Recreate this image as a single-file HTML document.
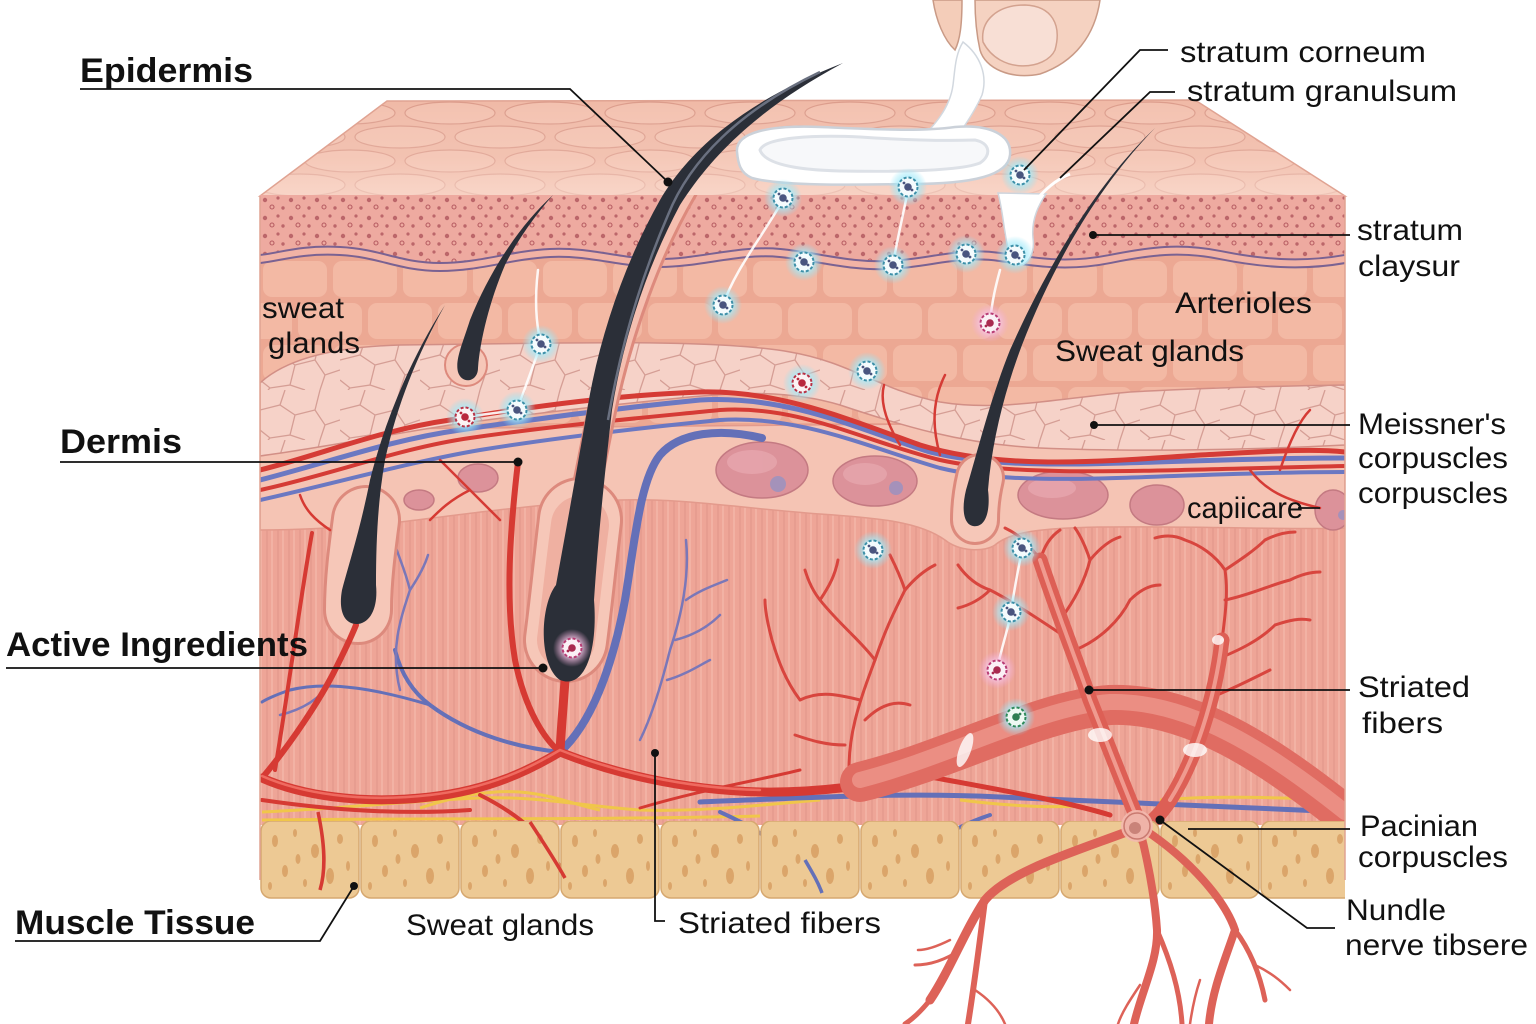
<!DOCTYPE html>
<html><head><meta charset="utf-8"><style>
html,body{margin:0;padding:0;background:#fff;}
svg{display:block;}
text{font-family:"Liberation Sans",sans-serif;fill:#111;}
.b{font-weight:700;font-size:34px;}
.r{font-size:30px;}
</style></head><body>
<svg width="1536" height="1024" viewBox="0 0 1536 1024" xmlns="http://www.w3.org/2000/svg">
<defs>
<pattern id="topc" patternUnits="userSpaceOnUse" x="0" y="101" width="200" height="48">
<rect width="200" height="48" fill="#f0b9a6"/>
<ellipse cx="50" cy="12" rx="45" ry="11" fill="#f3c1af" stroke="#dc9c8b" stroke-width="1.2"/>
<ellipse cx="150" cy="12" rx="45" ry="11" fill="#f3c1af" stroke="#dc9c8b" stroke-width="1.2"/>
<ellipse cx="0" cy="36" rx="45" ry="11" fill="#f3c1af" stroke="#dc9c8b" stroke-width="1.2"/>
<ellipse cx="100" cy="36" rx="45" ry="11" fill="#f3c1af" stroke="#dc9c8b" stroke-width="1.2"/>
<ellipse cx="200" cy="36" rx="45" ry="11" fill="#f3c1af" stroke="#dc9c8b" stroke-width="1.2"/>
</pattern>
<linearGradient id="topg" x1="0" y1="0" x2="0" y2="1">
<stop offset="0" stop-color="#fff" stop-opacity="0"/>
<stop offset="0.6" stop-color="#fde6dc" stop-opacity="0.2"/>
<stop offset="1" stop-color="#fde6dc" stop-opacity="0.55"/>
</linearGradient>
<pattern id="dots" patternUnits="userSpaceOnUse" x="260" y="195" width="26" height="18">
<rect width="26" height="18" fill="#eeaaa0"/>
<circle cx="5" cy="5" r="2.2" fill="#bc666a"/>
<circle cx="18" cy="3" r="1.6" fill="#bc666a"/>
<circle cx="12" cy="12" r="2" fill="none" stroke="#b85e63" stroke-width="1.1"/>
<circle cx="23" cy="13" r="1.7" fill="#bc666a"/>
</pattern>
<pattern id="bricks" patternUnits="userSpaceOnUse" x="260" y="258" width="140" height="84">
<rect width="140" height="84" fill="#eca893"/>
<rect x="3" y="3" width="64" height="36" rx="9" fill="#f3b9a4"/>
<rect x="73" y="3" width="64" height="36" rx="9" fill="#f3b9a4"/>
<rect x="-32" y="45" width="64" height="36" rx="9" fill="#f3b9a4"/>
<rect x="38" y="45" width="64" height="36" rx="9" fill="#f3b9a4"/>
<rect x="108" y="45" width="64" height="36" rx="9" fill="#f3b9a4"/>
</pattern>
<pattern id="pale" patternUnits="userSpaceOnUse" x="260" y="340" width="80" height="50">
<rect width="80" height="50" fill="#f6d2c8"/>
<path d="M0,20 L20,15 L35,25 L30,45 L10,48 L0,40 M20,15 L25,0 M35,25 L55,20 L60,0 M55,20 L65,35 L80,30 M65,35 L60,50 M30,45 L45,50 M10,48 L8,50" fill="none" stroke="#d59e95" stroke-width="1.3"/>
</pattern>
<pattern id="stripe" patternUnits="userSpaceOnUse" x="0" y="0" width="11" height="30">
<rect width="11" height="30" fill="#eea597"/>
<line x1="3" y1="0" x2="3" y2="30" stroke="#e0958a" stroke-width="1"/>
<line x1="8" y1="0" x2="8" y2="30" stroke="#f4baad" stroke-width="1.2"/>
</pattern>
<pattern id="fat" patternUnits="userSpaceOnUse" x="260" y="821" width="100" height="78">
<rect x="1" y="0" width="98" height="77" rx="10" fill="#edc994" stroke="#d6a870" stroke-width="1.5"/>
<ellipse cx="15" cy="20" rx="3" ry="6" fill="#dba56a"/>
<ellipse cx="35" cy="12" rx="2" ry="4" fill="#dba56a"/>
<ellipse cx="55" cy="30" rx="4" ry="7" fill="#dba56a"/>
<ellipse cx="80" cy="18" rx="3" ry="5" fill="#dba56a"/>
<ellipse cx="25" cy="50" rx="3" ry="6" fill="#dba56a"/>
<ellipse cx="70" cy="55" rx="4" ry="8" fill="#dba56a"/>
<ellipse cx="45" cy="62" rx="2" ry="4" fill="#dba56a"/>
<ellipse cx="88" cy="45" rx="2" ry="5" fill="#dba56a"/>
<ellipse cx="10" cy="65" rx="2" ry="4" fill="#dba56a"/>
<ellipse cx="38" cy="38" rx="2.5" ry="5" fill="#dba56a"/>
</pattern>
<radialGradient id="glow"><stop offset="0" stop-color="#f2fdff"/><stop offset="0.5" stop-color="#a9ecfa" stop-opacity="0.8"/><stop offset="1" stop-color="#8ae3f7" stop-opacity="0"/></radialGradient>
<radialGradient id="glowp"><stop offset="0" stop-color="#fff"/><stop offset="0.5" stop-color="#f6c6e6" stop-opacity="0.8"/><stop offset="1" stop-color="#f0a8d8" stop-opacity="0"/></radialGradient>
<g id="pc"><circle r="19" fill="url(#glow)"/><circle r="9.5" fill="#f4fbfd" stroke="#3d8fa8" stroke-width="2" stroke-dasharray="3 2"/><circle r="3.8" fill="#49557f"/><circle cx="-4" cy="-4" r="1.4" fill="#49557f"/><circle cx="4" cy="3" r="1.4" fill="#49557f"/></g>
<g id="pr"><circle r="19" fill="url(#glow)"/><circle r="9.5" fill="#fbf3f4" stroke="#b83246" stroke-width="2" stroke-dasharray="3 2"/><circle r="3.8" fill="#b8283d"/><circle cx="-4" cy="-4" r="1.4" fill="#b8283d"/><circle cx="4" cy="4" r="1.4" fill="#b8283d"/></g>
<g id="pp"><circle r="19" fill="url(#glowp)"/><circle r="9.5" fill="#fbf0f6" stroke="#b83c74" stroke-width="2" stroke-dasharray="3 2"/><circle r="3.8" fill="#a92a50"/><circle cx="-4" cy="3" r="1.4" fill="#a92a50"/></g>
<g id="pg"><circle r="19" fill="url(#glow)"/><circle r="9.5" fill="#eef9f3" stroke="#2e8a5a" stroke-width="2" stroke-dasharray="3 2"/><circle r="3.8" fill="#2e7d52"/><circle cx="4" cy="-3" r="1.4" fill="#2e7d52"/></g>
<clipPath id="front"><rect x="260" y="195" width="1085" height="704"/></clipPath>
</defs>

<rect width="1536" height="1024" fill="#fff"/>

<!-- top face -->
<polygon points="387,101 1195,100 1345,196 260,196" fill="url(#topc)"/>
<polygon points="387,101 1195,100 1345,196 260,196" fill="url(#topg)" stroke="#e0a392" stroke-width="1.5"/>

<g clip-path="url(#front)">
<rect x="260" y="195" width="1085" height="630" fill="url(#stripe)"/>
<rect x="260" y="250" width="1085" height="220" fill="url(#bricks)"/>
<!-- sub region -->
<path d="M260,430 L1345,420 L1345,528 C1300,530 1200,526 1100,527 C1040,528 1010,532 995,545 C985,552 960,552 945,540 C920,522 880,518 820,514 C740,508 680,498 620,500 C540,503 460,515 400,522 C340,528 300,530 260,530 Z" fill="#f5c4b4" stroke="#e39a8c" stroke-width="1.5"/>
<!-- ovals -->
<g fill="#dc929a" stroke="#c47a82" stroke-width="1.5">
<ellipse cx="762" cy="470" rx="46" ry="28"/>
<ellipse cx="875" cy="481" rx="42" ry="25"/>
<ellipse cx="1063" cy="495" rx="45" ry="24"/>
<ellipse cx="1157" cy="505" rx="27" ry="20"/>
<ellipse cx="1333" cy="510" rx="18" ry="20"/>
<ellipse cx="478" cy="478" rx="20" ry="14"/>
<ellipse cx="419" cy="500" rx="15" ry="10"/>
</g>
<g fill="#e8aab0" opacity="0.7">
<ellipse cx="752" cy="462" rx="25" ry="12"/><ellipse cx="865" cy="474" rx="22" ry="11"/><ellipse cx="1052" cy="488" rx="24" ry="10"/>
</g>
<g fill="#8d92c8" opacity="0.7"><circle cx="778" cy="484" r="8"/><circle cx="896" cy="488" r="7"/><circle cx="1343" cy="515" r="5"/></g>
<!-- pale layer -->
<path d="M260,383 C285,360 330,347 400,345 L560,343 C650,342 740,343 790,352 C850,362 880,390 940,402 C1000,412 1060,398 1130,392 C1200,388 1280,386 1345,385 L1345,445 C1250,450 1130,452 1040,448 C960,444 900,425 840,405 C790,390 740,392 680,398 C600,406 520,415 450,425 C380,436 320,448 260,456 Z" fill="url(#pale)" stroke="#d28f86" stroke-width="1.5"/>
<!-- granular -->
<path d="M260,195 H1345 V258 C1300,266 1260,262 1220,254 C1180,246 1150,250 1110,258 C1070,266 1040,262 1000,256 C960,250 930,262 890,264 C850,266 820,256 780,252 C740,248 700,262 660,262 C620,262 590,250 550,252 C510,254 480,266 440,266 C400,266 380,252 340,250 C300,248 280,256 260,258 Z" fill="url(#dots)"/>
<path d="M260,259 C280,257 300,249 340,251 C380,253 400,267 440,267 C480,267 510,255 550,253 C590,251 620,263 660,263 C700,263 740,249 780,253 C820,257 850,267 890,265 C930,263 960,251 1000,257 C1040,263 1070,267 1110,259 C1150,251 1180,247 1220,255 C1260,263 1300,267 1345,259" fill="none" stroke="#7a6292" stroke-width="10"/>
<path d="M260,259 C280,257 300,249 340,251 C380,253 400,267 440,267 C480,267 510,255 550,253 C590,251 620,263 660,263 C700,263 740,249 780,253 C820,257 850,267 890,265 C930,263 960,251 1000,257 C1040,263 1070,267 1110,259 C1150,251 1180,247 1220,255 C1260,263 1300,267 1345,259" fill="none" stroke="#f2b3a5" stroke-width="6"/>

<!-- yellow -->
<g fill="none" stroke="#f0c64a" stroke-width="3">
<path d="M262,812 C350,808 420,800 480,798 C540,796 580,806 640,810 C700,812 760,805 820,800"/>
<path d="M420,808 C460,795 490,790 520,792 C555,795 575,805 600,810"/>
<path d="M1160,800 C1220,795 1280,798 1345,800"/>
<path d="M960,800 C1000,805 1040,808 1080,806"/>
<path d="M262,820 C400,818 600,820 760,816"/>
</g>

<!-- upper plexus -->
<g fill="none" stroke-linecap="round">
<path d="M260,480 C330,462 390,440 460,430 C540,418 620,408 700,400 C790,395 860,430 930,452 C1020,475 1150,458 1345,458" stroke="#6b78c2" stroke-width="5"/>
<path d="M260,500 C340,482 410,462 480,450 C560,437 640,428 720,420 C800,415 870,448 940,468 C1030,490 1160,472 1345,472" stroke="#6b78c2" stroke-width="4"/>
<path d="M260,470 C320,455 380,430 450,420 C540,405 620,395 700,392 C780,390 850,420 920,445 C1000,470 1100,462 1200,455 C1260,452 1310,448 1345,452" stroke="#d53b35" stroke-width="5"/>
<path d="M260,490 C330,475 400,448 470,438 C560,425 640,418 720,410 C800,405 860,440 940,460 C1020,478 1150,470 1345,466" stroke="#d53b35" stroke-width="4"/>
<path d="M900,445 C885,420 880,400 884,385" stroke="#d53b35" stroke-width="2.5"/>
<path d="M940,455 C930,420 935,395 945,375" stroke="#d53b35" stroke-width="2.5"/>
<path d="M1280,470 C1290,440 1300,420 1310,410" stroke="#d53b35" stroke-width="2.5"/>
<path d="M1250,470 C1265,490 1285,500 1320,508" stroke="#d53b35" stroke-width="2.5"/>
<path d="M440,460 C460,480 480,500 500,520" stroke="#d53b35" stroke-width="2.5"/>
</g>

<!-- blue dermis vessels -->
<g fill="none" stroke-linecap="round" stroke="#6470b8">
<path d="M762,438 C720,428 680,432 660,455 C640,480 635,540 625,600 C612,670 590,725 560,752" stroke-width="8"/>
<path d="M560,752 C520,748 470,735 430,705 C410,690 400,670 395,650" stroke-width="4"/>
<path d="M430,705 C380,690 330,680 290,690 C275,695 265,700 262,702" stroke-width="3"/>
<path d="M400,690 C390,650 400,620 410,590 M410,590 C405,570 400,560 395,545 M410,590 C420,575 425,565 428,555 M330,682 C320,700 300,710 280,715" stroke-width="2.5" stroke="#7a77b8"/>
<path d="M686,540 C690,580 680,620 670,650 C660,690 650,720 640,740 M686,600 C700,590 715,585 727,580 M675,640 C695,635 710,625 720,615 M667,680 C685,675 700,665 710,660" stroke-width="2.5" stroke="#7a77b8"/>
<path d="M700,802 C800,798 900,792 1000,797 C1100,802 1200,806 1345,812" stroke-width="5"/>
<path d="M720,812 C760,830 800,855 822,893" stroke-width="4"/>
<path d="M905,880 C920,850 945,830 990,815" stroke-width="4"/>
</g>

<!-- follicle sheaths -->
<g fill="none" stroke-linecap="round">
<path d="M686,185 C650,245 618,330 600,420 C592,460 584,500 578,530" stroke="#dd8a7d" stroke-width="30"/>
<path d="M686,185 C650,245 618,330 600,420 C592,460 584,500 578,530" stroke="#f5bfb0" stroke-width="24"/>
<path d="M580,520 C574,570 570,610 566,640" stroke="#dd8a7d" stroke-width="86"/>
<path d="M580,520 C574,570 570,610 566,640" stroke="#f6c7b8" stroke-width="80"/>
<path d="M580,525 C574,570 570,610 566,640" stroke="#efb0a1" stroke-width="58"/>
<path d="M366,520 C362,550 358,580 358,610" stroke="#dd8a7d" stroke-width="70"/>
<path d="M366,520 C362,550 358,580 358,610" stroke="#f6c7b8" stroke-width="64"/>
<path d="M980,478 C976,495 975,508 975,520" stroke="#dd8a7d" stroke-width="50"/>
<path d="M980,478 C976,495 975,508 975,520" stroke="#f6c7b8" stroke-width="44"/>
</g>
<circle cx="466" cy="365" r="21" fill="#f6c7b8" stroke="#dd8a7d" stroke-width="2"/>

<!-- red vessels -->
<g fill="none" stroke-linecap="round" stroke="#d63a33">
<path d="M262,778 C300,795 360,805 430,797 C490,790 530,770 560,752 C610,772 680,790 760,792 C820,793 870,785 920,775" stroke-width="9"/>
<path d="M262,778 C290,745 320,700 335,670 C345,650 352,635 356,625" stroke-width="6"/>
<path d="M312,533 C300,600 290,680 275,770" stroke-width="4"/>
<path d="M518,462 C510,530 505,600 515,660 C525,710 545,740 560,752" stroke-width="6"/>
<path d="M565,680 C563,710 561,730 560,752" stroke-width="9"/>
<path d="M262,800 C330,810 400,815 470,810" stroke-width="4"/>
<path d="M480,795 C520,815 550,840 565,878" stroke-width="4"/>
<path d="M640,808 C700,790 760,780 800,770" stroke-width="3"/>
<path d="M920,775 C1000,790 1060,800 1110,815" stroke-width="5"/>
<path d="M470,490 C450,500 440,510 430,520 M330,530 C315,520 305,510 300,495" stroke-width="2.5"/>
</g>
<g fill="none" stroke-linecap="round" stroke="#ef6b60" stroke-width="2.5">
<path d="M262,776 C300,793 360,803 430,795 C490,788 530,768 560,750 C610,770 680,788 760,790"/>
</g>
<!-- red trees -->
<g fill="none" stroke-linecap="round" stroke="#d8453e" stroke-width="3">
<path d="M850,785 C845,740 860,700 875,660 C885,630 895,610 905,590"/>
<path d="M875,660 C860,640 840,625 820,600 M820,600 C812,590 808,580 805,570 M820,600 C830,585 835,575 838,560 M905,590 C900,575 895,565 890,555 M905,590 C915,578 925,570 935,565 M860,700 C840,695 820,690 800,700 M865,720 C880,705 895,700 910,705 M845,745 C825,745 810,740 795,735 M800,700 C785,680 778,660 772,640 M772,640 C768,625 765,612 765,600"/>
<path d="M1060,620 C1075,600 1085,580 1090,560 M1090,560 C1085,545 1080,535 1075,528 M1090,560 C1100,548 1110,540 1120,537 M1075,650 C1100,640 1120,620 1130,600 M1130,600 C1140,590 1150,585 1160,585"/>
<path d="M1040,560 C1030,545 1020,535 1005,528 M1040,560 C1045,545 1050,537 1060,530 M1070,640 C1040,620 1010,600 990,590 M990,590 C975,585 965,575 958,565 M990,590 C980,600 970,605 958,608"/>
<path d="M1222,640 C1226,610 1228,590 1225,570 M1225,570 C1215,555 1200,545 1185,540 M1225,570 C1240,560 1255,550 1265,540 M1265,540 C1275,535 1285,532 1295,532 M1225,600 C1250,595 1270,585 1290,580 M1290,580 C1300,575 1310,572 1320,572 M1215,660 C1240,650 1260,640 1275,625 M1275,625 C1290,620 1300,618 1310,620 M1205,700 C1230,690 1250,680 1270,670 M1185,540 C1175,535 1165,535 1155,538"/>
</g>

<!-- muscle band + nerve trunks -->
<g fill="none" stroke-linecap="round">
<path d="M860,782 C950,760 1040,710 1110,705 C1190,702 1270,755 1345,815" stroke="#e06c62" stroke-width="40"/>
<path d="M860,780 C950,757 1040,707 1110,702 C1190,700 1270,752 1345,812" stroke="#f09d92" stroke-width="16" opacity="0.7"/>
<path d="M1040,560 C1060,620 1080,670 1090,700 C1110,750 1125,790 1140,825" stroke="#dd5f55" stroke-width="15"/>
<path d="M1222,640 C1215,700 1195,760 1170,800 C1160,815 1150,825 1140,828" stroke="#dd5f55" stroke-width="15"/>
<path d="M1040,560 C1060,620 1080,670 1090,700 C1110,750 1125,790 1140,825" stroke="#f09a8f" stroke-width="4"/>
<path d="M1222,640 C1215,700 1195,760 1170,800" stroke="#f09a8f" stroke-width="4"/>
</g>
<g fill="#fff" opacity="0.8">
<ellipse cx="965" cy="750" rx="6" ry="18" transform="rotate(20 965 750)"/>
<ellipse cx="1100" cy="735" rx="12" ry="7"/>
<ellipse cx="1195" cy="750" rx="12" ry="7"/>
<ellipse cx="1218" cy="640" rx="6" ry="5"/>
</g>

<!-- fat layer -->
<rect x="260" y="821" width="1085" height="79" fill="url(#fat)"/>
<path d="M318,812 C325,845 326,870 320,890" fill="none" stroke="#d63a33" stroke-width="3.5"/>
<path d="M530,822 C545,845 555,860 565,878" fill="none" stroke="#d63a33" stroke-width="3.5"/>
<path d="M805,860 C812,872 818,882 822,893" fill="none" stroke="#6470b8" stroke-width="3.5"/>
</g>

<!-- hairs (outside clip so tips show above block) -->
<path d="M843,63 C760,95 695,140 660,200 C625,262 600,335 588,405 C576,475 566,530 556,585 C540,605 538,665 560,680 C585,690 598,650 594,600 C598,540 604,480 612,410 C624,335 648,265 680,205 C715,150 765,105 843,63 Z" fill="#2b2f38"/>
<path d="M820,72 C740,110 690,160 668,215 C640,280 620,350 608,420" fill="none" stroke="#6a7080" stroke-width="2.5"/>
<path d="M553,195 C520,225 490,270 470,320 C462,345 455,360 458,372 C462,385 478,382 478,368 C480,340 490,300 505,265 C520,235 540,210 553,195 Z" fill="#2b2f38"/>
<path d="M445,305 C410,360 385,420 370,480 C360,530 350,560 342,590 C338,612 345,625 358,624 C372,622 378,605 376,585 C376,540 378,500 385,460 C398,400 420,350 445,305 Z" fill="#2b2f38"/>
<path d="M1155,128 C1100,180 1050,260 1010,350 C990,400 978,450 966,490 C960,515 966,528 977,526 C988,524 990,505 988,490 C992,440 1005,390 1022,345 C1055,260 1100,185 1155,128 Z" fill="#2b2f38"/>

<!-- block edges -->
<path d="M260,196 V880 M1345,196 V880" stroke="#e0a392" stroke-width="1.5" fill="none"/>

<!-- nerve center and branches -->
<g fill="none" stroke-linecap="round" stroke="#dd6258">
<path d="M1137,828 C1080,850 1010,870 985,900 C965,930 950,970 930,1000" stroke-width="9"/>
<path d="M985,900 C980,940 975,980 968,1024" stroke-width="6"/>
<path d="M930,1000 C922,1010 914,1018 905,1024" stroke-width="5"/>
<path d="M960,950 C945,960 930,965 915,965" stroke-width="3"/>
<path d="M1140,830 C1150,870 1155,900 1157,930 C1158,960 1142,990 1134,1024" stroke-width="8"/>
<path d="M1157,930 C1170,960 1180,990 1182,1024" stroke-width="5"/>
<path d="M1145,830 C1190,860 1225,900 1235,930 C1225,960 1212,990 1209,1024" stroke-width="8"/>
<path d="M1235,930 C1250,950 1260,975 1265,1000" stroke-width="5"/>
<path d="M1255,965 C1270,972 1280,980 1290,990 M1200,980 C1195,995 1192,1010 1190,1024 M1140,985 C1130,1000 1122,1012 1118,1024 M975,990 C990,1000 1000,1012 1005,1024 M950,940 C940,945 928,950 918,950" stroke-width="2.5"/>
</g>
<circle cx="1137" cy="826" r="16" fill="#f3b9ae" opacity="0.9"/>
<circle cx="1137" cy="826" r="13" fill="#efb3a8" stroke="#c97a70" stroke-width="1.5"/>
<circle cx="1135" cy="828" r="6" fill="#c98379"/>

<!-- hand -->
<path d="M933,0 C936,20 944,40 955,50 C960,40 962,25 962,0 Z" fill="#f4cdb9" stroke="#c99a86" stroke-width="1.5"/>
<path d="M975,0 L1100,0 C1095,35 1075,62 1040,74 C1010,80 985,68 980,50 C976,32 975,15 975,0 Z" fill="#f5d2c1" stroke="#c99a86" stroke-width="1.5"/>
<path d="M983,42 C980,20 998,5 1025,5 C1052,6 1062,25 1055,50 C1046,70 1000,75 983,42 Z" fill="#f8dfd5" stroke="#d3a28f" stroke-width="1.5"/>
<!-- cream -->
<path d="M963,42 C980,55 988,75 982,95 C972,118 960,130 955,142 L915,145 C935,125 950,108 953,85 C955,70 955,55 963,42 Z" fill="#fff" stroke="#d2d8df" stroke-width="1.5"/>
<path d="M737,152 C735,132 770,125 820,127 C870,129 920,132 955,127 C990,124 1012,135 1010,155 C1008,175 975,184 910,184 C850,185 780,186 752,178 C740,173 738,163 737,152 Z" fill="#fff" stroke="#cbd1d9" stroke-width="2.5"/>
<path d="M760,150 C765,137 815,135 860,137 C905,140 945,141 975,140 C990,143 992,155 980,163 C960,171 900,172 840,171 C800,170 765,165 760,150 Z" fill="#f7f8fa" stroke="#dde1e7" stroke-width="3"/>
<path d="M998,193 C1004,215 1004,240 1012,262 C1022,272 1036,258 1033,238 C1031,218 1040,203 1046,194 Z" fill="#fff" stroke="#cfd5dd" stroke-width="1.5"/>
<path d="M1036,200 C1045,190 1055,180 1070,174" fill="none" stroke="#fff" stroke-width="3"/>

<!-- trails -->
<g fill="none" stroke="#ffffff" stroke-width="2.5" opacity="0.9" stroke-linecap="round">
<path d="M783,200 C760,240 735,270 723,305"/>
<path d="M908,190 C902,220 896,245 893,265"/>
<path d="M541,344 C535,320 535,295 538,270"/>
<path d="M465,417 L517,410 L541,344"/>
<path d="M990,323 C992,300 996,285 1000,270"/>
<path d="M1011,612 C1014,590 1018,570 1022,550"/>
<path d="M997,670 C1002,645 1008,630 1011,612"/>
</g>

<!-- particles -->
<use href="#pc" x="783" y="198"/><use href="#pc" x="908" y="187"/><use href="#pc" x="1020" y="175"/>
<use href="#pc" x="804" y="262"/><use href="#pc" x="893" y="265"/><use href="#pc" x="966" y="254"/>
<use href="#pc" x="1015" y="255"/><use href="#pc" x="723" y="305"/><use href="#pc" x="541" y="344"/>
<use href="#pc" x="517" y="410"/><use href="#pc" x="867" y="371"/><use href="#pc" x="873" y="550"/>
<use href="#pc" x="1022" y="548"/><use href="#pc" x="1011" y="612"/><use href="#pg" x="1016" y="717"/>
<use href="#pp" x="990" y="323"/><use href="#pr" x="465" y="417"/><use href="#pr" x="802" y="383"/>
<use href="#pp" x="997" y="670"/><use href="#pp" x="572" y="648"/>

<!-- leader lines -->
<g fill="none" stroke="#111" stroke-width="1.8">
<path d="M80,89 H570 L668,182"/>
<path d="M60,462 H518"/>
<path d="M6,668 H543"/>
<path d="M15,941 H320 L354,886"/>
<path d="M1168,50 H1140 L1024,170"/>
<path d="M1175,92 H1150 L1060,178"/>
<path d="M1093,235 H1350"/>
<path d="M1094,425 H1350"/>
<path d="M1089,690 H1350"/>
<path d="M1188,829 H1350"/>
<path d="M1160,820 L1307,928 H1335"/>
<path d="M655,753 V921 H665"/>
<path d="M1298,508 H1320"/>
</g>
<g fill="#111">
<circle cx="668" cy="182" r="4.5"/><circle cx="518" cy="462" r="4.5"/><circle cx="543" cy="668" r="4.5"/>
<circle cx="354" cy="886" r="4"/><circle cx="1093" cy="235" r="4"/><circle cx="1094" cy="425" r="4"/>
<circle cx="1089" cy="690" r="4.5"/><circle cx="1160" cy="820" r="4.5"/><circle cx="655" cy="753" r="4"/>
</g>

<!-- labels -->
<text class="b" x="80" y="82" textLength="173" lengthAdjust="spacingAndGlyphs">Epidermis</text>
<text class="b" x="60" y="453" textLength="122" lengthAdjust="spacingAndGlyphs">Dermis</text>
<text class="b" x="6" y="656" textLength="302" lengthAdjust="spacingAndGlyphs">Active Ingredients</text>
<text class="b" x="15" y="934" textLength="240" lengthAdjust="spacingAndGlyphs">Muscle Tissue</text>
<text class="r" x="262" y="318" textLength="82" lengthAdjust="spacingAndGlyphs">sweat</text>
<text class="r" x="268" y="353" textLength="92" lengthAdjust="spacingAndGlyphs">glands</text>
<text class="r" x="1180" y="62" textLength="246" lengthAdjust="spacingAndGlyphs">stratum corneum</text>
<text class="r" x="1187" y="101" textLength="270" lengthAdjust="spacingAndGlyphs">stratum granulsum</text>
<text class="r" x="1357" y="240" textLength="106" lengthAdjust="spacingAndGlyphs">stratum</text>
<text class="r" x="1358" y="276" textLength="102" lengthAdjust="spacingAndGlyphs">claysur</text>
<text class="r" x="1175" y="313" textLength="137" lengthAdjust="spacingAndGlyphs">Arterioles</text>
<text class="r" x="1055" y="361" textLength="189" lengthAdjust="spacingAndGlyphs">Sweat glands</text>
<text class="r" x="1358" y="434" textLength="148" lengthAdjust="spacingAndGlyphs">Meissner's</text>
<text class="r" x="1358" y="468" textLength="150" lengthAdjust="spacingAndGlyphs">corpuscles</text>
<text class="r" x="1358" y="503" textLength="150" lengthAdjust="spacingAndGlyphs">corpuscles</text>
<text class="r" x="1187" y="518" textLength="116" lengthAdjust="spacingAndGlyphs">capiicare</text>
<text class="r" x="1358" y="697" textLength="112" lengthAdjust="spacingAndGlyphs">Striated</text>
<text class="r" x="1362" y="733" textLength="81" lengthAdjust="spacingAndGlyphs">fibers</text>
<text class="r" x="1360" y="836" textLength="118" lengthAdjust="spacingAndGlyphs">Pacinian</text>
<text class="r" x="1358" y="867" textLength="150" lengthAdjust="spacingAndGlyphs">corpuscles</text>
<text class="r" x="1346" y="920" textLength="100" lengthAdjust="spacingAndGlyphs">Nundle</text>
<text class="r" x="1345" y="955" textLength="183" lengthAdjust="spacingAndGlyphs">nerve tibsere</text>
<text class="r" x="406" y="935" textLength="188" lengthAdjust="spacingAndGlyphs">Sweat glands</text>
<text class="r" x="678" y="933" textLength="203" lengthAdjust="spacingAndGlyphs">Striated fibers</text>
</svg>
</body></html>
